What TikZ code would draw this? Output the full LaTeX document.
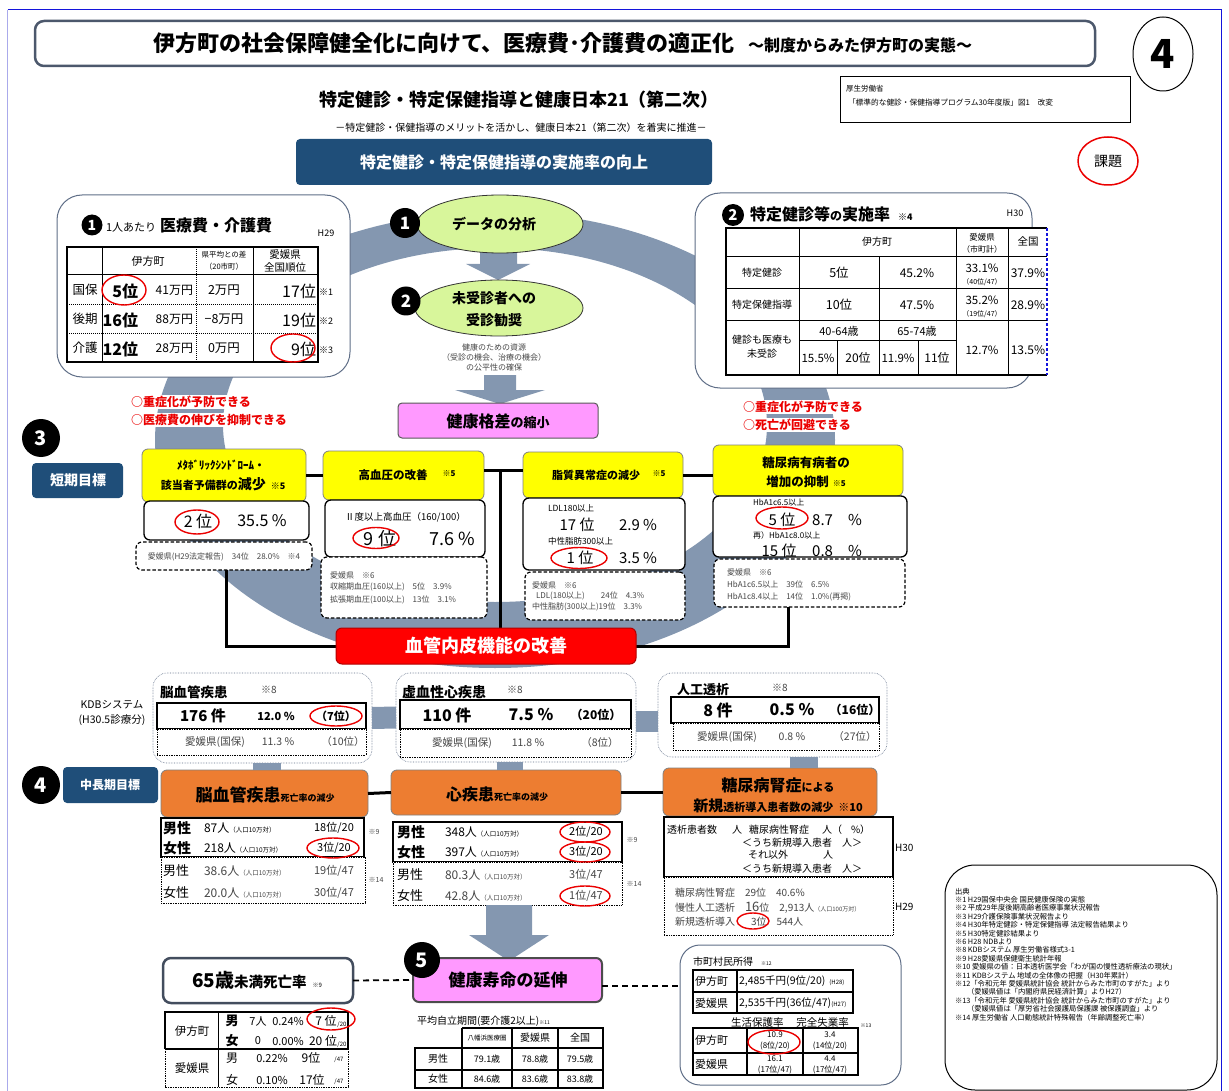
\documentclass[tikz,border=0pt]{standalone}
\usepackage{fontspec}
\setmainfont{Noto Sans CJK JP}
\usetikzlibrary{shapes.geometric}
\definecolor{dblue}{RGB}{31,78,121}
\definecolor{ringc}{RGB}{132,151,176}
\definecolor{ylw}{RGB}{255,255,0}
\definecolor{orng}{RGB}{237,125,49}
\definecolor{pnk}{RGB}{255,153,255}
\definecolor{lgreen}{RGB}{216,246,155}
\definecolor{slate}{RGB}{95,110,135}
\definecolor{redc}{RGB}{235,0,0}
\definecolor{gtxt}{RGB}{70,70,70}
\definecolor{frameb}{RGB}{20,20,220}
\definecolor{framel}{RGB}{170,170,235}
\newcommand\fz[1]{\fontsize{#1}{#1}\selectfont}
\newcounter{tn}
\newcommand\tx[4][]{\stepcounter{tn}\node[tb,#1] (t\arabic{tn}) at (#2,#3) {#4};}
\newcommand\bx[6]{\node[anchor=north west,inner sep=0pt,outer sep=0pt,minimum width={#4pt-#2pt},minimum height={#5pt-#3pt},#6] (#1) at (#2,#3) {};}
\tikzset{
  tb/.style={inner sep=0pt,outer sep=0pt,align=center},
  rbox/.style={draw=slate,line width=1pt,fill=white,rounded corners=#1},
  ybox/.style={draw=gray,line width=0.8pt,fill=ylw,rounded corners=6pt},
  wbox/.style={draw=black,line width=1.3pt,fill=white,rounded corners=6pt},
  dbox/.style={draw=black,line width=1.2pt,fill=white,rounded corners=6pt,dash pattern=on 3.5pt off 2pt},
  obox/.style={draw=gray,line width=0.8pt,fill=orng,rounded corners=6pt},
  navybox/.style={fill=dblue,rounded corners=4pt},
  redel/.style={draw=redc,line width=1.4pt},
  blk/.style={line width=3pt,draw=black},
  numc/.style={circle,fill=black,inner sep=0pt,minimum size=#1,text=white,font=\fz{17}\bfseries},
  kdbo/.style={draw=slate,line width=0.6pt,densely dotted,fill=white,rounded corners=14pt},
  solb/.style={draw=black,line width=1.5pt,fill=white},
  dotb/.style={draw=black,line width=0.7pt,densely dotted,fill=white},
  dsh/.style={draw=black,line width=1.8pt,dash pattern=on 6pt off 4pt},
  redtx/.style={fill=white,inner sep=1pt,text=redc,font=\fz{12}\bfseries},
}
\begin{document}
\begin{tikzpicture}[x=1pt,y=-1pt]
\useasboundingbox (0,0) rectangle (1229,1091);
% frame
\draw[framel,line width=1pt] (7.5,1091) -- (7.5,10);
\draw[frameb,line width=1pt] (7.5,10) -- (1221,10) -- (1221,1091);
% title
\bx{title}{35}{21}{1095}{66}{draw=slate!80!black,line width=2.5pt,rounded corners=9pt,fill=white}
\tx[anchor=base west]{153}{52}{\fz{22}\bfseries 伊方町の社会保障健全化に向けて、医療費･介護費の適正化}
\tx[anchor=base west]{748}{52}{\fz{16}\bfseries ～制度からみた伊方町の実態～}
\node[draw,ellipse,line width=1pt,minimum width=60pt,minimum height=74pt,inner sep=0pt,font=\fz{40}\bfseries] (c4) at (1163,54) {4};
\bx{src}{840}{76}{1130}{122}{draw=black,line width=0.7pt}
\tx[anchor=west]{846}{89}{\fz{7.5}厚生労働省}
\tx[anchor=west]{848}{103}{\fz{7.7}「標準的な健診・保健指導プログラム30年度版」図1　改変}
\tx{519}{100}{\fz{18}\bfseries 特定健診・特定保健指導と健康日本21（第二次）}
\tx{521}{128}{\fz{10}－特定健診・保健指導のメリットを活かし、健康日本21（第二次）を着実に推進－}
\bx{top}{296}{139}{712}{185}{navybox}
\tx{504}{162}{\fz{16}\bfseries\color{white}特定健診・特定保健指導の実施率の向上}
\node[draw=redc,line width=1.5pt,ellipse,minimum width=60pt,minimum height=48pt,inner sep=0pt,font=\fz{14}] (kadai) at (1108,161) {課題};
% ring
\fill[ringc,even odd rule] (495,440) ellipse [x radius=340pt,y radius=228pt] (495,425) ellipse [x radius=272pt,y radius=177pt];
% arrows
\fill[ringc] (480,245) -- (517,245) -- (517,264) -- (530,264) -- (498,280) -- (466,264) -- (480,264) -- cycle;
\fill[ringc] (484,375) -- (516,375) -- (516,390) -- (545,390) -- (500,404) -- (455,390) -- (484,390) -- cycle;
% box 1
\bx{b1}{57}{195}{350}{377}{rbox=25pt}
\node[numc=21pt,font=\fz{14}\bfseries] (n1a) at (92,225) {1};
\tx[anchor=base west]{106}{232}{{\fz{11}1人あたり}\hspace{4pt}{\fz{16}\bfseries 医療費・介護費}}
\tx{326}{233}{\fz{9}H29}
\bx{tb1}{67}{247}{318}{362}{draw=black,line width=1.3pt,fill=white}
\draw[line width=1pt] (102,247) -- (102,362) (253,247) -- (253,362) (67,275) -- (318,275);
\draw[line width=1pt,densely dotted] (196,247) -- (196,362) (67,305) -- (318,305) (67,334) -- (318,334);
\tx{148}{261}{\fz{11}伊方町}
\tx{224}{255}{\fz{7.5}県平均との差}
\tx{224}{267}{\fz{7.5}（20市町）}
\tx{285}{255}{\fz{10.5}愛媛県}
\tx{285}{268}{\fz{10.5}全国順位}
\tx{85}{290}{\fz{12.5}国保}
\tx[anchor=east]{138}{291}{\fz{16}\bfseries 5位}
\tx[anchor=east]{193}{290}{\fz{12}41万円}
\tx{224}{290}{\fz{12.5}2万円}
\tx[anchor=east]{316}{291}{\fz{16}17位}
\tx[anchor=west]{319}{292}{\fz{9}※1}
\tx{85}{319}{\fz{12.5}後期}
\tx[anchor=east]{138}{320}{\fz{16}\bfseries 16位}
\tx[anchor=east]{193}{319}{\fz{12}88万円}
\tx{224}{319}{\fz{12.5}−8万円}
\tx[anchor=east]{316}{320}{\fz{16}19位}
\tx[anchor=west]{319}{321}{\fz{9}※2}
\tx{85}{348}{\fz{12.5}介護}
\tx[anchor=east]{138}{349}{\fz{16}\bfseries 12位}
\tx[anchor=east]{193}{348}{\fz{12}28万円}
\tx{224}{348}{\fz{12.5}0万円}
\tx[anchor=east]{316}{349}{\fz{16}9位}
\tx[anchor=west]{319}{350}{\fz{9}※3}
\draw[redel] (124,290) ellipse [x radius=22pt,y radius=15pt];
\draw[redel] (293,348) ellipse [x radius=22pt,y radius=14pt];
\tx[redtx,anchor=west]{130}{402}{○重症化が予防できる}
\tx[redtx,anchor=west]{130}{420}{○医療費の伸びを抑制できる}
% box 2
\bx{b2}{695}{193}{1032}{388}{rbox=25pt}
\node[numc=22pt,font=\fz{15}\bfseries] (n2a) at (733,215) {2};
\tx[anchor=base west]{750}{221}{{\fz{16}\bfseries 特定健診等}{\fz{12}\bfseries の}{\fz{16}\bfseries 実施率}\hspace{8pt}{\fz{9}\bfseries ※4}}
\tx{1015}{213}{\fz{9}H30}
\fill[white] (726,228) rectangle (1047,375);
\draw[line width=1.2pt] (1047,228) -- (726,228) -- (726,375) -- (1047,375);
\draw[line width=1.2pt,frameb,densely dashed] (1047,228) -- (1047,375);
\draw[line width=1pt] (799,228)--(799,375) (956,228)--(956,375) (1008,228)--(1008,375) (726,257)--(1047,257) (726,289)--(1047,289) (726,321)--(1047,321) (879,257)--(879,375) (799,341)--(956,341) (837,341)--(837,375) (918,341)--(918,375);
\tx{877}{242}{\fz{10}伊方町}
\tx{982}{237}{\fz{8.5}愛媛県}
\tx{982}{249}{\fz{8}（市町計）}
\tx{1028}{242}{\fz{10.5}全国}
\tx{762}{273}{\fz{10}特定健診}
\tx{839}{273}{\fz{12.5}5位}
\tx{917}{273}{\fz{12}45.2\%}
\tx{982}{268}{\fz{11.5}33.1\%}
\tx{982}{282}{\fz{7}（40位/47）}
\tx{1028}{273}{\fz{12}37.9\%}
\tx{762}{305}{\fz{10}特定保健指導}
\tx{839}{305}{\fz{12.5}10位}
\tx{917}{305}{\fz{12}47.5\%}
\tx{982}{300}{\fz{11.5}35.2\%}
\tx{982}{314}{\fz{7}（19位/47）}
\tx{1028}{305}{\fz{12}28.9\%}
\tx{762}{340}{\fz{10}健診も医療も}
\tx{762}{354}{\fz{10}未受診}
\tx{839}{331}{\fz{11}40-64歳}
\tx{917}{331}{\fz{11}65-74歳}
\tx{818}{358}{\fz{11.5}15.5\%}
\tx{858}{358}{\fz{12}20位}
\tx{898}{358}{\fz{11.5}11.9\%}
\tx{937}{358}{\fz{12}11位}
\tx{982}{350}{\fz{11.5}12.7\%}
\tx{1028}{350}{\fz{12}13.5\%}
\tx[redtx,anchor=west]{742}{407}{○重症化が予防できる}
\tx[redtx,anchor=west]{742}{425}{○死亡が回避できる}
% ellipses
\node[draw=black!80,line width=0.8pt,fill=lgreen,ellipse,minimum width=166pt,minimum height=58pt,inner sep=0pt] (e1) at (500,224) {};
\tx{494}{224}{\fz{14}\bfseries データの分析}
\node[numc=30pt] (n1) at (405,223) {1};
\node[draw=black!80,line width=0.8pt,fill=lgreen,ellipse,minimum width=168pt,minimum height=56pt,inner sep=0pt] (e2) at (499,308) {};
\tx{494}{298}{\fz{14}\bfseries 未受診者への}
\tx{494}{320}{\fz{14}\bfseries 受診勧奨}
\node[numc=29pt] (n2) at (406,301) {2};
\tx{494}{347}{\fz{8}\color{gtxt}健康のための資源}
\tx{494}{357}{\fz{8}\color{gtxt}（受診の機会、治療の機会）}
\tx{494}{367}{\fz{8}\color{gtxt}の公平性の確保}
\bx{pk1}{398}{403}{598}{438}{draw=gray!70!black,line width=1pt,fill=pnk,rounded corners=4pt}
\tx{498}{421}{{\fz{16}\bfseries 健康格差}{\fz{13}\bfseries の縮小}}
% short term
\node[numc=38pt,font=\fz{20}\bfseries] (n3) at (41,438) {3};
\bx{st}{32}{463}{123}{498}{navybox}
\tx{78}{480}{\fz{14}\bfseries\color{white}短期目標}
% black connectors goals
\coordinate (j1) at (500,470);
\coordinate (jL) at (226,646);
\coordinate (jR) at (788,646);
% goal 1
\bx{g1}{142}{449}{306}{502}{ybox}
\tx{221}{465}{\fz{11}\bfseries ﾒﾀﾎﾞﾘｯｸｼﾝﾄﾞﾛｰﾑ・}
\tx{223}{484}{{\fz{11}\bfseries 該当者予備群の}{\fz{14}\bfseries 減少}\hspace{5pt}{\fz{9}\bfseries ※5}}
\bx{w1}{144}{501}{309}{540}{wbox}
\tx{198}{521}{\fz{16}2 位}
\tx{262}{521}{\fz{16}35.5 \%}
\draw[redel] (197,522) ellipse [x radius=22pt,y radius=12pt];
\bx{d1}{136}{542}{312}{570}{dbox}
\tx{224}{557}{\fz{8}\color{gtxt}愛媛県(H29法定報告)　34位　28.0\%　※4}
% goal 2
\bx{g2}{323}{451}{484}{500}{ybox}
\tx{393}{475}{\fz{11.5}\bfseries 高血圧の改善}
\tx{449}{474}{\fz{8}\bfseries ※5}
\bx{w2}{325}{500}{485}{557}{wbox}
\tx[anchor=west]{345}{517}{\fz{9.5}Ⅱ度以上高血圧（160/100）}
\tx{380}{539}{\fz{18}9 位}
\tx{452}{539}{\fz{18}7.6 \%}
\draw[redel] (376,538) ellipse [x radius=23pt,y radius=10.5pt];
\bx{d2}{321}{557}{487}{618}{dbox}
\tx[anchor=west]{330}{575}{\fz{8}\color{gtxt}愛媛県　※6}
\tx[anchor=west]{330}{587}{\fz{8}\color{gtxt}収縮期血圧(160以上)　5位　3.9\%}
\tx[anchor=west]{330}{600}{\fz{8}\color{gtxt}拡張期血圧(100以上)　13位　3.1\%}
% goal 3
\bx{g3}{523}{452}{683}{498}{ybox}
\tx{596}{475}{\fz{11}\bfseries 脂質異常症の減少}
\tx{659}{474}{\fz{8}\bfseries ※5}
\bx{w3}{523}{498}{685}{570}{wbox}
\tx[anchor=west]{548}{508}{\fz{8.5}LDL180以上}
\tx{577}{525}{\fz{15}17 位}
\tx{638}{525}{\fz{15}2.9 \%}
\tx[anchor=west]{548}{541}{\fz{8.5}中性脂肪300以上}
\tx{580}{558}{\fz{15}1 位}
\tx{638}{558}{\fz{15}3.5 \%}
\draw[redel] (579,558) ellipse [x radius=28pt,y radius=10.5pt];
\bx{d3}{525}{572}{685}{620}{dbox}
\tx[anchor=west]{532}{585}{\fz{8}\color{gtxt}愛媛県　※6}
\tx[anchor=west]{536}{596}{\fz{8}\color{gtxt}LDL(180以上)　　24位　4.3\%}
\tx[anchor=west]{532}{607}{\fz{8}\color{gtxt}中性脂肪(300以上)19位　3.3\%}
% goal 4
\bx{g4}{713}{445}{903}{496}{ybox}
\tx{806}{463}{\fz{12.5}\bfseries 糖尿病有病者の}
\tx{806}{482}{{\fz{12.5}\bfseries 増加の抑制}\hspace{4pt}{\fz{8}\bfseries ※5}}
\bx{w4}{713}{496}{907}{557}{wbox}
\tx[anchor=west]{753}{503}{\fz{8}HbA1c6.5以上}
\tx{782}{520}{\fz{15}5 位}
\tx{837}{520}{\fz{15}8.7　\%}
\draw[redel] (782,518) ellipse [x radius=26pt,y radius=11pt];
\tx[anchor=west]{753}{535}{\fz{8}再）HbA1c8.0以上}
\tx{779}{551}{\fz{15}15 位}
\tx{837}{551}{\fz{15}0.8　\%}
\bx{d4}{714}{559}{905}{607}{dbox}
\tx[anchor=west]{727}{572}{\fz{8}\color{gtxt}愛媛県　※6}
\tx[anchor=west]{727}{584}{\fz{8}\color{gtxt}HbA1c6.5以上　39位　6.5\%}
\tx[anchor=west]{727}{597}{\fz{8}\color{gtxt}HbA1c8.4以上　14位　1.0\%(再掲)}
% goal connectors
\draw[blk] (g1.east) -- (g2.west);
\draw[blk] (g2.east |- j1) -- (g3.west |- j1);
\draw[blk] (g3.east) -- (g3.east -| g4.west);
\draw[blk] (jL |- d1.south) -- (jL) -- (jR) -- (jR |- d4.south);
\draw[blk] (j1) -- (j1 |- jL);
% red box
\bx{rb}{336}{628}{636}{664}{fill=red,draw=red!70!black,line width=1pt,rounded corners=6pt}
\tx{486}{646}{\fz{18}\bfseries\color{white}血管内皮機能の改善}
% KDB row
\tx{112}{705}{\fz{10.5}KDBシステム}
\tx{112}{720}{\fz{10.5}(H30.5診療分)}
\bx{kA}{153}{673}{372}{763}{kdbo}
\tx[anchor=west]{160}{692}{\fz{13.5}\bfseries 脳血管疾患}
\tx{269}{690}{\fz{10}\color{gtxt}※8}
\bx{kAs}{157}{703}{366}{729}{solb}
\tx{203}{716}{\fz{15}\bfseries 176 件}
\tx{276}{716}{\fz{11}\bfseries 12.0 \%}
\tx{336}{716}{\fz{11}\bfseries （7位）}
\draw[redel] (336,716) ellipse [x radius=26pt,y radius=10pt];
\bx{kAd}{157}{729}{366}{755}{dotb}
\tx{215}{742}{\fz{10.5}\color{gtxt}愛媛県(国保)}
\tx{278}{742}{\fz{10.5}\color{gtxt}11.3 \%}
\tx{343}{742}{\fz{10.5}\color{gtxt}（10位）}
\bx{kB}{396}{673}{636}{762}{kdbo}
\tx[anchor=west]{402}{692}{\fz{14}\bfseries 虚血性心疾患}
\tx{515}{690}{\fz{10}\color{gtxt}※8}
\bx{kBs}{400}{700}{631}{729}{solb}
\tx{447}{715}{\fz{16}\bfseries 110 件}
\tx{531}{715}{\fz{16}\bfseries 7.5 \%}
\tx{596}{715}{\fz{12}\bfseries （20位）}
\bx{kBd}{400}{729}{631}{757}{dotb}
\tx{462}{743}{\fz{10.5}\color{gtxt}愛媛県(国保)}
\tx{528}{743}{\fz{10.5}\color{gtxt}11.8 \%}
\tx{600}{743}{\fz{10.5}\color{gtxt}（8位）}
\bx{kC}{658}{673}{887}{757}{kdbo}
\tx[anchor=west]{677}{690}{\fz{13}\bfseries 人工透析}
\tx{780}{688}{\fz{10}\color{gtxt}※8}
\bx{kCs}{671}{697}{879}{723}{solb}
\tx{718}{710}{\fz{16}\bfseries 8 件}
\tx{792}{710}{\fz{16}\bfseries 0.5 \%}
\tx{855}{710}{\fz{12}\bfseries （16位）}
\bx{kCd}{673}{723}{879}{750}{dotb}
\tx{727}{737}{\fz{10.5}\color{gtxt}愛媛県(国保)}
\tx{792}{737}{\fz{10.5}\color{gtxt}0.8 \%}
\tx{855}{737}{\fz{10.5}\color{gtxt}（27位）}
% medium term
\node[numc=38pt,font=\fz{20}\bfseries] (n4) at (41,785) {4};
\bx{mt}{63}{767}{158}{803}{navybox}
\tx{110}{785}{\fz{12}\bfseries\color{white}中長期目標}
\bx{o1}{161}{770}{368}{817}{obox}
\tx{265}{795}{{\fz{17}\bfseries 脳血管疾患}{\fz{9}\bfseries 死亡率の減少}}
\bx{o2}{391}{770}{621}{815}{obox}
\tx{497}{794}{{\fz{16}\bfseries 心疾患}{\fz{9}\bfseries 死亡率の減少}}
\bx{o3}{663}{768}{877}{816}{obox}
\tx{778}{785}{{\fz{16}\bfseries 糖尿病腎症}{\fz{11}\bfseries による}}
\tx{778}{806}{{\fz{15}\bfseries 新規}{\fz{11}\bfseries 透析導入患者数の減少}\hspace{5pt}{\fz{11}\bfseries ※10}}
% KDB gray connectors
\draw[ringc,line width=22pt] (kA.east) -- (kB.west);
\draw[ringc,line width=21pt] ([yshift=-4pt]kB.east) -- ([yshift=-4pt]kB.east -| kC.west);
\draw[ringc,line width=28pt] ([xshift=4pt]kA.south) -- ([xshift=4pt]kA.south |- o1.north);
\draw[ringc,line width=26pt] ([xshift=-6pt]kB.south) -- ([xshift=-6pt]kB.south |- o2.north);
\draw[ringc,line width=28pt] ([xshift=31pt]kC.south) -- ([xshift=31pt]kC.south |- o3.north);
\draw[blk] (o1.east) -- (o2.west);
\draw[blk] (o2.east) -- (o2.east -| o3.west);
% orange 1 table
\bx{o1s}{161}{818}{364}{857}{solb}
\bx{o1d}{161}{857}{365}{903}{dotb}
\tx[anchor=west]{163}{828}{\fz{14}\bfseries 男性}
\tx[anchor=west]{204}{828}{\fz{12}87人\fz{6.5}（人口10万対）}
\tx{334}{828}{\fz{11}18位/20}
\tx[anchor=west]{163}{848}{\fz{14}\bfseries 女性}
\tx[anchor=west]{204}{848}{\fz{12}218人\fz{6.5}（人口10万対）}
\tx{334}{848}{\fz{11}3位/20}
\draw[redel] (333,848) ellipse [x radius=26pt,y radius=10pt];
\tx[anchor=west]{163}{871}{\fz{13}男性}
\tx[anchor=west]{204}{871}{\fz{12}\color{gtxt}38.6人\fz{6.5}（人口10万対）}
\tx{334}{871}{\fz{11}\color{gtxt}19位/47}
\tx[anchor=west]{163}{893}{\fz{13}女性}
\tx[anchor=west]{204}{893}{\fz{12}\color{gtxt}20.0人\fz{6.5}（人口10万対）}
\tx{334}{893}{\fz{11}\color{gtxt}30位/47}
\tx{374}{832}{\fz{7}\color{gtxt}※9}
\tx{376}{880}{\fz{7}\color{gtxt}※14}
% orange 2 table
\bx{o2s}{393}{822}{622}{862}{solb}
\bx{o2d}{393}{862}{622}{905}{dotb}
\tx[anchor=west]{397}{832}{\fz{14}\bfseries 男性}
\tx[anchor=west]{445}{832}{\fz{12}348人\fz{6.5}（人口10万対）}
\tx{586}{832}{\fz{11}2位/20}
\draw[redel] (585,832) ellipse [x radius=25pt,y radius=10pt];
\tx[anchor=west]{397}{852}{\fz{14}\bfseries 女性}
\tx[anchor=west]{445}{852}{\fz{12}397人\fz{6.5}（人口10万対）}
\tx{586}{852}{\fz{11}3位/20}
\draw[redel] (585,852) ellipse [x radius=25pt,y radius=10pt];
\tx[anchor=west]{397}{875}{\fz{13}男性}
\tx[anchor=west]{445}{875}{\fz{12}\color{gtxt}80.3人\fz{6.5}（人口10万対）}
\tx{586}{875}{\fz{11}\color{gtxt}3位/47}
\tx[anchor=west]{397}{896}{\fz{13}女性}
\tx[anchor=west]{445}{896}{\fz{12}\color{gtxt}42.8人\fz{6.5}（人口10万対）}
\tx{586}{896}{\fz{11}\color{gtxt}1位/47}
\draw[redel] (585,896) ellipse [x radius=25pt,y radius=10pt];
\tx{632}{840}{\fz{7}\color{gtxt}※9}
\tx{634}{884}{\fz{7}\color{gtxt}※14}
% orange 3 table
\bx{o3s}{664}{817}{893}{877}{solb}
\bx{o3d}{664}{877}{893}{935}{dotb}
\tx[anchor=west]{667}{830}{\fz{10}透析患者数\hspace{15pt}人\hspace{7pt}糖尿病性腎症\hspace{13pt}人（\hspace{9pt}\%）}
\tx{802}{843}{\fz{10}＜うち新規導入患者　人＞}
\tx[anchor=west]{748}{855}{\fz{10}それ以外\hspace{35pt}人}
\tx{802}{869}{\fz{10}＜うち新規導入患者　人＞}
\tx[anchor=west]{895}{848}{\fz{10}H30}
\tx[anchor=west]{675}{893}{\fz{10}\color{gtxt}糖尿病性腎症　29位　40.6\%}
\tx[anchor=west]{675}{908}{\fz{10}\color{gtxt}慢性人工透析　{\fz{13}16}位　2,913人{\fz{6}（人口100万対）}}
\tx[anchor=west]{675}{922}{\fz{10}\color{gtxt}新規透析導入　\hspace{6pt}3位　544人}
\draw[redel] (753,921) ellipse [x radius=16pt,y radius=8pt];
\tx[anchor=west]{895}{907}{\fz{10}H29}
% bottom
\fill[ringc] (486,905) -- (532,905) -- (532,935) -- (549,935) -- (509,961) -- (469,935) -- (486,935) -- cycle;
\bx{pk2}{413}{958}{602}{1002}{draw=gray!60!black,line width=2pt,fill=pnk,rounded corners=6pt}
\tx{508}{980}{\fz{17}\bfseries 健康寿命の延伸}
\node[numc=36pt,font=\fz{20}\bfseries] (n5) at (422,960) {5};
\bx{m65}{163}{958}{353}{1003}{draw=slate!70!black,line width=2.5pt,rounded corners=8pt,fill=white}
\tx{257}{980}{{\fz{19}\bfseries 65歳}{\fz{14.5}\bfseries 未満死亡率}\hspace{6pt}{\fz{6}※9}}
\bx{inc}{680}{945}{901}{1085}{rbox=20pt}
\draw[dsh] (m65.east) -- (pk2.west);
\draw[dsh] ([yshift=-6pt]pk2.east) -- ([yshift=-6pt]pk2.east -| inc.west);
% 65 table
\fill[white] (165,1012) rectangle (348,1087);
\draw[line width=1.3pt] (165,1049) -- (165,1012) -- (348,1012) -- (348,1049);
\draw[line width=1.3pt] (165,1049) -- (348,1049);
\draw[line width=0.7pt,densely dotted] (165,1049) -- (165,1087) -- (348,1087) -- (348,1049);
\draw[line width=1pt] (218,1012) -- (218,1087);
\tx{192}{1031}{\fz{11.5}伊方町}
\tx{232}{1021}{\fz{13}\bfseries 男}
\tx{258}{1021}{\fz{11}7人}
\tx{288}{1021}{\fz{11}0.24\%}
\tx{326}{1021}{\fz{12}7 位}
\tx{342}{1025}{\fz{6}/20}
\draw[redel] (331,1019) ellipse [x radius=24pt,y radius=11pt];
\tx{232}{1041}{\fz{13}\bfseries 女}
\tx{258}{1041}{\fz{11}0}
\tx{288}{1041}{\fz{11}0.00\%}
\tx{323}{1041}{\fz{12}20 位}
\tx{342}{1045}{\fz{6}/20}
\tx{192}{1068}{\fz{11.5}愛媛県}
\tx{232}{1058}{\fz{12}男}
\tx{272}{1058}{\fz{11}0.22\%}
\tx{311}{1058}{\fz{12}9位}
\tx{339}{1060}{\fz{6}/47}
\tx{232}{1080}{\fz{12}女}
\tx{272}{1080}{\fz{11}0.10\%}
\tx{312}{1080}{\fz{12}17位}
\tx{339}{1082}{\fz{6}/47}
% 平均自立期間
\tx[anchor=west]{417}{1021}{{\fz{10}平均自立期間(要介護2以上)}{\fz{5}※11}}
\fill[white] (415,1028) rectangle (603,1088);
\draw[line width=1.2pt] (462,1028) -- (603,1028) -- (603,1088) -- (415,1088) -- (415,1048) -- (603,1048);
\draw[line width=1.2pt] (462,1028) -- (462,1088) (512,1028) -- (512,1088) (558,1028) -- (558,1088) (415,1070) -- (603,1070);
\tx{487}{1038}{\fz{6.5}八幡浜医療圏}
\tx{535}{1038}{\fz{10}愛媛県}
\tx{580}{1038}{\fz{10}全国}
\tx{438}{1059}{\fz{10}男性}
\tx{487}{1059}{\fz{9}79.1歳}
\tx{535}{1059}{\fz{9}78.8歳}
\tx{580}{1059}{\fz{9}79.5歳}
\tx{438}{1079}{\fz{10}女性}
\tx{487}{1079}{\fz{9}84.6歳}
\tx{535}{1079}{\fz{9}83.6歳}
\tx{580}{1079}{\fz{9}83.8歳}
% income box
\tx[anchor=west]{693}{962}{{\fz{10}市町村民所得}\hspace{8pt}{\fz{5}※12}}
\draw[line width=1.2pt] (693,970) rectangle (853,1013) (693,992) -- (853,992) (737,970) -- (737,1013);
\tx[anchor=west]{695}{981}{\fz{11}伊方町}
\tx[anchor=west]{739}{981}{{\fz{10.5}2,485千円(9位/20)}\hspace{4pt}{\fz{6}(H28)}}
\tx[anchor=west]{695}{1003}{\fz{11}愛媛県}
\tx[anchor=west]{739}{1003}{{\fz{10.5}2,535千円(36位/47)}{\fz{6}(H27)}}
\tx{790}{1023}{\fz{10.5}生活保護率　 完全失業率}
\tx{866}{1026}{\fz{5}※13}
\draw[line width=1.2pt] (693,1028) rectangle (858,1075) (693,1053) -- (858,1053) (747,1028) -- (747,1075) (803,1028) -- (803,1075);
\tx[anchor=west]{695}{1040}{\fz{11}伊方町}
\tx{775}{1035}{\fz{8}10.9}
\tx{775}{1046}{\fz{8}(8位/20)}
\tx{830}{1035}{\fz{8}3.4}
\tx{830}{1046}{\fz{8}(14位/20)}
\tx[anchor=west]{695}{1064}{\fz{11}愛媛県}
\tx{775}{1059}{\fz{8}16.1}
\tx{775}{1070}{\fz{8}(17位/47)}
\tx{830}{1059}{\fz{8}4.4}
\tx{830}{1070}{\fz{8}(17位/47)}
\draw[redel] (774,1042) ellipse [x radius=26pt,y radius=12pt];
% references
\bx{refs}{945}{865}{1217}{1090}{draw=black,line width=1pt,rounded corners=30pt,fill=white}
\tx[anchor=north west,align=left,font={\fontsize{7.3}{8.4}\selectfont}]{955}{888}{出典\\
※1 H29国保中央会 国民健康保険の実態\\
※2 平成29年度後期高齢者医療事業状況報告\\
※3 H29介護保険事業状況報告より\\
※4 H30年特定健診・特定保健指導 法定報告結果より\\
※5 H30特定健診結果より\\
※6 H28 NDBより\\
※8 KDBシステム 厚生労働省様式3-1\\
※9 H28愛媛県保健衛生統計年報\\
※10 愛媛県の値：日本透析医学会「わが国の慢性透析療法の現状」\\
※11 KDBシステム 地域の全体像の把握（H30年累計）\\
※12「令和元年 愛媛県統計協会 統計からみた市町のすがた」より\\
\hspace*{12pt}（愛媛県値は「内閣府県民経済計算」よりH27）\\
※13「令和元年 愛媛県統計協会 統計からみた市町のすがた」より\\
\hspace*{12pt}（愛媛県値は「厚労省社会援護局保護課 被保護調査」より\\
※14 厚生労働省 人口動態統計特殊報告（年齢調整死亡率）}
\end{tikzpicture}
\end{document}
